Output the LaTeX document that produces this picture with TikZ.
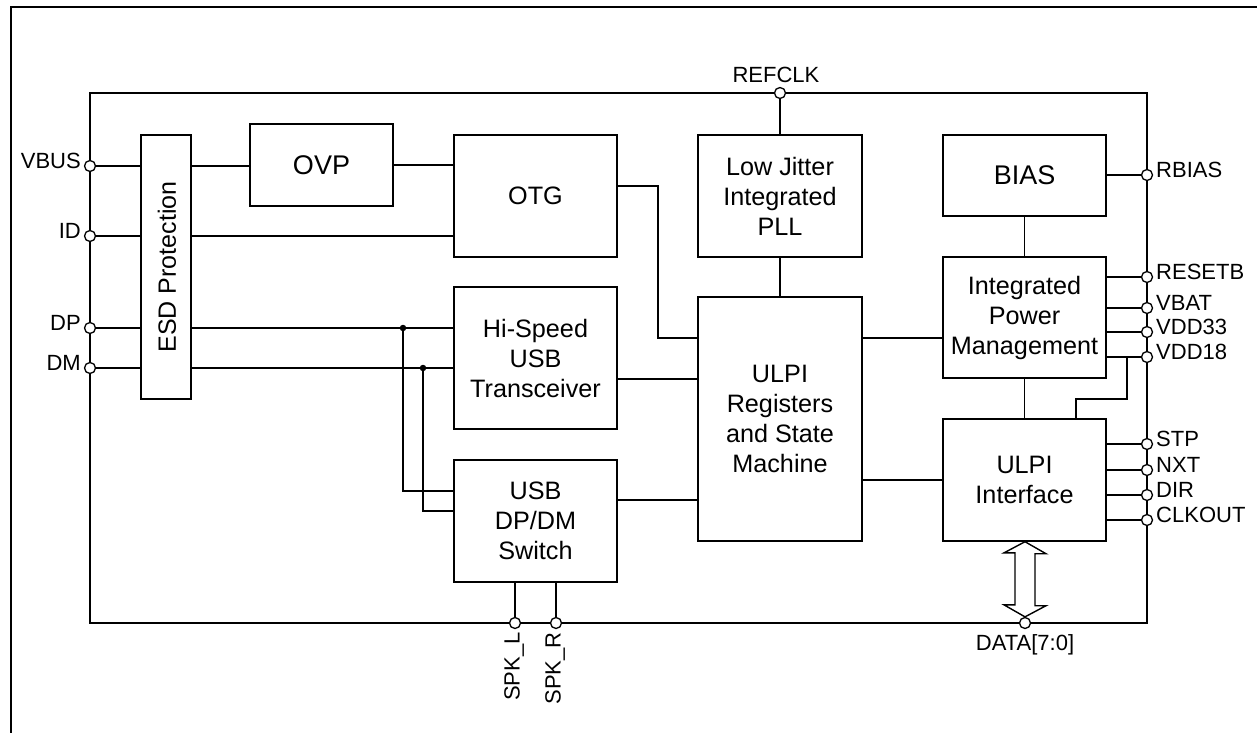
\documentclass[tikz,border=0pt]{standalone}
\usepackage{fontspec}
\setmainfont{Liberation Sans}
\begin{document}
\begin{tikzpicture}[x=1pt,y=-1pt,
  wire/.style={line width=1.4pt},
  blk/.style={draw, line width=1.4pt, inner sep=0pt, align=center,
    font=\fontsize{25.2}{30}\selectfont},
  bigblk/.style={blk, font=\fontsize{27}{30}\selectfont},
  pin/.style={circle, draw, line width=1.3pt, fill=white, minimum size=11pt, inner sep=0pt},
  pinlbl/.style={inner sep=0pt, font=\fontsize{22}{24}\selectfont},
  jdot/.style={circle, fill=black, minimum size=6.5pt, inner sep=0pt}]
\useasboundingbox (0,0) rectangle (1257,732);
% outer frame
\draw[line width=2pt] (11,745) -- (11,7) -- (1270,7);
% chip outline
\node[draw, line width=1.4pt, minimum width=1057pt, minimum height=530pt, inner sep=0pt] (chip) at (618.5,358) {};
% blocks
\node[blk, minimum width=50pt, minimum height=264pt] (esd) at (166,267) {};
\node[inner sep=0pt, rotate=90, font=\fontsize{25}{30}\selectfont] (esdlbl) at (167,267) {ESD Protection};
\node[bigblk, minimum width=143pt, minimum height=82pt] (ovp) at (321.5,165) {OVP};
\node[blk, minimum width=163pt, minimum height=122pt] (otg) at (535.5,196) {OTG};
\node[blk, minimum width=163pt, minimum height=142pt] (hs) at (535.5,358) {Hi-Speed\\USB\\Transceiver};
\node[blk, minimum width=163pt, minimum height=122pt] (sw) at (535.5,521) {USB\\DP/DM\\Switch};
\node[blk, minimum width=164pt, minimum height=122pt] (pll) at (780,196) {Low Jitter\\Integrated\\PLL};
\node[blk, minimum width=164pt, minimum height=244pt] (reg) at (780,419) {ULPI\\Registers\\and State\\Machine};
\node[bigblk, minimum width=163pt, minimum height=81pt] (bias) at (1024.5,175.5) {BIAS};
\node[blk, minimum width=163pt, minimum height=121pt] (ipm) at (1024.5,317.5) {Integrated\\Power\\Management};
\node[blk, minimum width=163pt, minimum height=122pt] (ulpi) at (1024.5,480) {ULPI\\Interface};
% pins (positions)
\coordinate (cvbus) at (90,166);
\coordinate (cid) at (90,236);
\coordinate (cdp) at (90,328);
\coordinate (cdm) at (90,368);
% junctions
\coordinate (j1) at (403,328);
\coordinate (j2) at (423,368);
\coordinate (j3) at (1127,357);
% left side wires
\draw[wire] (cvbus) -- (cvbus -| esd.west);
\draw[wire] (cvbus -| esd.east) -- (cvbus -| ovp.west);
\draw[wire] (ovp.east) -- (ovp.east -| otg.west);
\draw[wire] (cid) -- (cid -| esd.west);
\draw[wire] (cid -| esd.east) -- (cid -| otg.west);
\draw[wire] (cdp) -- (cdp -| esd.west);
\draw[wire] (cdp -| esd.east) -- (cdp -| hs.west);
\draw[wire] (cdm) -- (cdm -| esd.west);
\draw[wire] (cdm -| esd.east) -- (cdm -| hs.west);
\draw[wire] (j1) |- (sw.west |- 0,491);
\draw[wire] (j2) |- (sw.west |- 0,511);
\node[jdot] (d1) at (j1) {};
\node[jdot] (d2) at (j2) {};
% middle wires
\draw[wire] (otg.east |- 0,186) -| (658,338) -- (reg.west |- 0,338);
\draw[wire] (hs.east |- 0,379) -- (reg.west |- 0,379);
\draw[wire] (sw.east |- 0,500) -- (reg.west |- 0,500);
\draw[wire] (pll.south) -- (reg.north);
\draw[wire] (reg.east |- 0,338) -- (ipm.west |- 0,338);
\draw[wire] (reg.east |- 0,480) -- (ulpi.west);
\draw[wire] (bias.south) -- (ipm.north);
\draw[wire] (ipm.south) -- (ulpi.north);
% right pins
\node[pin] (refclk) at (780,93) {};
\draw[wire] (refclk) -- (pll.north);
\node[pin] (rbias) at (1147,175) {};
\node[pin] (resetb) at (1147,277) {};
\node[pin] (vbat) at (1147,308) {};
\node[pin] (vdd33) at (1147,332) {};
\node[pin] (vdd18) at (1147,357) {};
\node[pin] (stp) at (1147,444) {};
\node[pin] (nxt) at (1147,470) {};
\node[pin] (dir) at (1147,495) {};
\node[pin] (clkout) at (1147,520) {};
\draw[wire] (bias.east |- rbias) -- (rbias);
\draw[wire] (ipm.east |- resetb) -- (resetb);
\draw[wire] (ipm.east |- vbat) -- (vbat);
\draw[wire] (ipm.east |- vdd33) -- (vdd33);
\draw[wire] (ipm.east |- vdd18) -- (vdd18);
\draw[wire] (j3) -- (1127,399) -- (1076,399) -- (ulpi.north -| 1076,0);
\draw[wire] (ulpi.east |- stp) -- (stp);
\draw[wire] (ulpi.east |- nxt) -- (nxt);
\draw[wire] (ulpi.east |- dir) -- (dir);
\draw[wire] (ulpi.east |- clkout) -- (clkout);
% bottom pins
\node[pin] (spkl) at (515,623) {};
\node[pin] (spkr) at (556,623) {};
\node[pin] (data) at (1025,623) {};
\draw[wire] (sw.south -| spkl) -- (spkl);
\draw[wire] (sw.south -| spkr) -- (spkr);
% data bus double arrow
\draw[wire, fill=white] (ulpi.south -| data) -- ++(21,12) -- ++(-11,0) -- ++(0,52) -- ++(11,0)
  -- (data.north) -- ++(-21,-12) -- ++(11,0) -- ++(0,-52) -- ++(-11,0) -- cycle;
% left pins
\node[pin] (vbus) at (cvbus) {};
\node[pin] (id) at (cid) {};
\node[pin] (dp) at (cdp) {};
\node[pin] (dm) at (cdm) {};
% pin labels
\node[pinlbl, anchor=mid east] (lvbus) at (81,166) {VBUS};
\node[pinlbl, anchor=mid east] (lid) at (81,236) {ID};
\node[pinlbl, anchor=mid east] (ldp) at (81,328) {DP};
\node[pinlbl, anchor=mid east] (ldm) at (81,368) {DM};
\node[pinlbl, anchor=base] (lrefclk) at (776,82) {REFCLK};
\node[pinlbl, anchor=mid west] (lrbias) at (1156,175) {RBIAS};
\node[pinlbl, anchor=mid west] (lresetb) at (1156,277) {RESETB};
\node[pinlbl, anchor=mid west] (lvbat) at (1156,308) {VBAT};
\node[pinlbl, anchor=mid west] (lvdd33) at (1156,332) {VDD33};
\node[pinlbl, anchor=mid west] (lvdd18) at (1156,357) {VDD18};
\node[pinlbl, anchor=mid west] (lstp) at (1156,444) {STP};
\node[pinlbl, anchor=mid west] (lnxt) at (1156,470) {NXT};
\node[pinlbl, anchor=mid west] (ldir) at (1156,495) {DIR};
\node[pinlbl, anchor=mid west] (lclkout) at (1156,520) {CLKOUT};
\node[pinlbl, anchor=base] (ldata) at (1025,650) {DATA[7:0]};
\node[pinlbl, anchor=mid east, rotate=90] (lspkl) at (517,632) {SPK\_L};
\node[pinlbl, anchor=mid east, rotate=90] (lspkr) at (558,632) {SPK\_R};
\end{tikzpicture}
\end{document}
